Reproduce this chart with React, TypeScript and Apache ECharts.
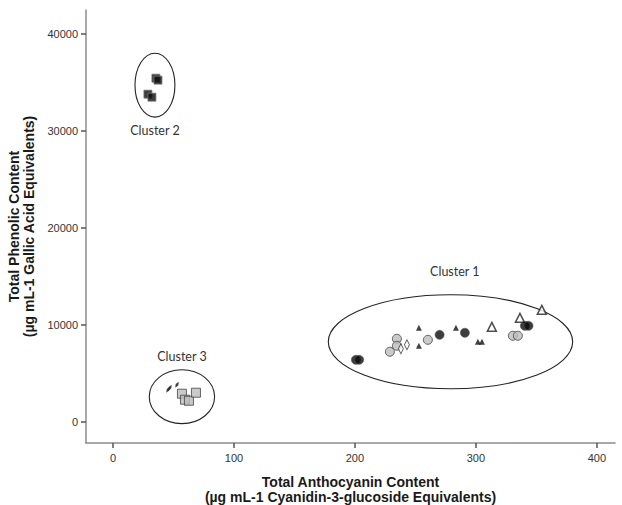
import React, { useEffect, useRef } from "react";
import * as echarts from "echarts";

// Data (x: anthocyanin, y: phenolic)
const blackSquares = [
  [35.5, 35460],
  [37.2, 35260],
  [28.9, 33810],
  [32.2, 33500],
];
const graySquares = [
  [57, 2890],
  [59.5, 2270],
  [62.8, 2160],
  [68.6, 2990],
];
const thinDiamonds = [
  [45.5, 3300],
  [47.1, 3500],
  [52.9, 3810],
];
const blackCircles = [
  [200.8, 6390],
  [203.5, 6390],
  [270, 8970],
  [290.9, 9180],
  [340.5, 9900],
  [343.5, 9900],
];
const grayCircles = [
  [228.9, 7220],
  [234.7, 8560],
  [234.7, 7840],
  [260.3, 8450],
  [330.6, 8870],
  [334.7, 8870],
];
const whiteDiamonds = [
  [238, 7530],
  [243, 7940],
];
const blackTriangles = [
  [252.9, 9690],
  [252.9, 7840],
  [283.5, 9690],
  [301.7, 8250],
  [305, 8250],
];
const whiteTriangles = [
  [336.4, 10720],
  [313.2, 9790],
  [354.5, 11550],
];
// cluster ellipses: [cx, cy, rx, ry, labelX, labelY]
const clusterNames = ["Cluster 1", "Cluster 2", "Cluster 3"];
const clusterShapes = [
  [279, 8250, 101, 4850, 282.6, 15460],
  [34.7, 34740, 16.5, 3300, 34.7, 30100],
  [57, 2580, 27, 2780, 57, 6700],
];
const xTicks = [0, 100, 200, 300, 400];
const yTicks = [0, 10000, 20000, 30000, 40000];

export default function App() {
  const ref = useRef<HTMLDivElement>(null);
  useEffect(() => {
    if (!ref.current) return;
    const chart = echarts.init(ref.current, undefined, { renderer: "svg" });
    const axisColor = "#8c8c8c";
    const labelStyle = {
      color: "#333333",
      fontFamily: "'Liberation Sans', Arial, sans-serif",
      fontSize: 11,
    };
    const nameStyle = {
      color: "#1a1a1a",
      fontFamily: "'Liberation Sans', Arial, sans-serif",
      fontSize: 14,
      fontWeight: "bold" as const,
      lineHeight: 15,
    };
    chart.setOption({
      animation: false,
      backgroundColor: "#fff",
      grid: {
        left: 86,
        right: 7,
        top: 10,
        bottom: 62,
        containLabel: false,
        outerBoundsMode: "none",
      },
      xAxis: {
        type: "value",
        min: -22.3,
        max: 415,
        splitLine: { show: false },
        axisLine: { show: true, onZero: false, lineStyle: { color: axisColor, width: 1.5 } },
        axisTick: { show: true, length: 5, customValues: xTicks, lineStyle: { color: "#555", width: 1.5 } },
        axisLabel: {
          ...labelStyle,
          margin: 9,
          customValues: xTicks,
          formatter: (v: number) => String(v),
        },
        name: "Total Anthocyanin Content\n(µg mL-1 Cyanidin-3-glucoside Equivalents)",
        nameLocation: "middle",
        nameGap: 31,
        nameTextStyle: nameStyle,
      },
      yAxis: {
        type: "value",
        min: -2200,
        max: 42500,
        splitLine: { show: false },
        axisLine: { show: true, onZero: false, lineStyle: { color: axisColor, width: 1.5 } },
        axisTick: { show: true, length: 5, customValues: yTicks, lineStyle: { color: "#555", width: 1.5 } },
        axisLabel: {
          ...labelStyle,
          margin: 8,
          customValues: yTicks,
          formatter: (v: number) => String(v),
        },
        name: "Total Phenolic Content\n(µg mL-1 Gallic Acid Equivalents)",
        nameLocation: "middle",
        nameGap: 47,
        nameTextStyle: nameStyle,
      },
      series: [
        {
          type: "custom",
          clip: false,
          z: 1,
          data: clusterShapes,
          renderItem: (params: any, api: any) => {
            const c = api.coord([api.value(0), api.value(1)]);
            const s = api.size([api.value(2), api.value(3)]);
            const l = api.coord([api.value(4), api.value(5)]);
            return {
              type: "group",
              children: [
                {
                  type: "ellipse",
                  shape: { cx: c[0], cy: c[1], rx: s[0], ry: s[1] },
                  style: { fill: "none", stroke: "#222", lineWidth: 1.1 },
                },
                {
                  type: "text",
                  x: l[0],
                  y: l[1],
                  style: {
                    text: clusterNames[params.dataIndex],
                    fill: "#333",
                    font: "12.5px Lato, 'Open Sans', sans-serif",
                    align: "center",
                    verticalAlign: "middle",
                  },
                },
              ],
            };
          },
        },
        {
          type: "scatter",
          data: blackSquares,
          symbol: "rect",
          symbolSize: 8,
          itemStyle: { color: "#0d0d0d", borderColor: "#777", borderWidth: 1 },
        },
        {
          type: "scatter",
          data: graySquares,
          symbol: "rect",
          symbolSize: 9,
          itemStyle: { color: "#bdbdbd", borderColor: "#444", borderWidth: 1 },
        },
        {
          type: "scatter",
          data: thinDiamonds,
          symbol: "diamond",
          symbolSize: [3, 7],
          symbolRotate: -30,
          itemStyle: { color: "#111" },
        },
        {
          type: "scatter",
          data: grayCircles,
          symbol: "circle",
          symbolSize: 9,
          itemStyle: { color: "#bdbdbd", borderColor: "#444", borderWidth: 1 },
        },
        {
          type: "scatter",
          data: whiteDiamonds,
          symbol: "diamond",
          symbolSize: [5, 10],
          itemStyle: { color: "#fff", borderColor: "#333", borderWidth: 1 },
        },
        {
          type: "scatter",
          data: whiteTriangles,
          symbol: "triangle",
          symbolSize: 9,
          itemStyle: { color: "#fff", borderColor: "#222", borderWidth: 1.5 },
        },
        {
          type: "scatter",
          data: blackTriangles,
          symbol: "triangle",
          symbolSize: 6,
          itemStyle: { color: "#111" },
        },
        {
          type: "scatter",
          data: blackCircles,
          symbol: "circle",
          symbolSize: 9,
          itemStyle: { color: "#0d0d0d", borderColor: "#555", borderWidth: 0.8 },
        },
      ],
    });
    return () => chart.dispose();
  }, []);
  return (
    <div
      ref={ref}
      style={{ position: "absolute", left: 0, top: 0, width: 622, height: 505 }}
    />
  );
}
